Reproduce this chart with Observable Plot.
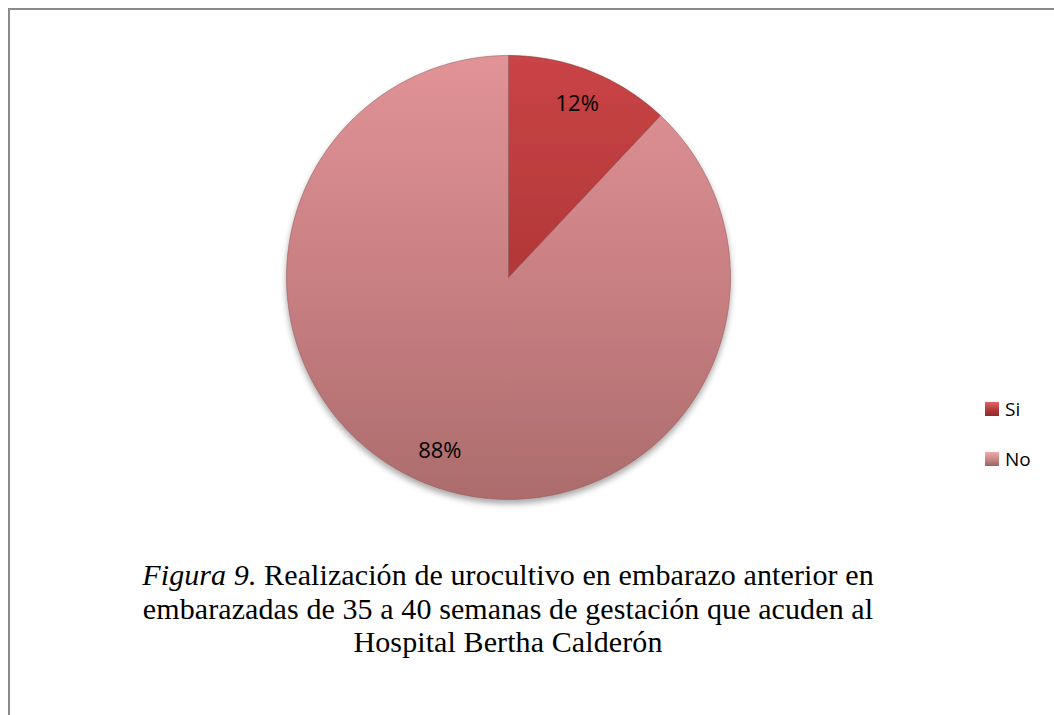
<!DOCTYPE html>
<html>
<head>
<meta charset="utf-8">
<script src="https://cdn.jsdelivr.net/npm/d3@7"></script>
<script src="https://cdn.jsdelivr.net/npm/@observablehq/plot@0.6"></script>
<style>
  html, body { margin: 0; padding: 0; background: #fff; }
  #wrap { position: relative; width: 1054px; height: 715px; overflow: hidden; background: #fff; }
  #frame { position: absolute; left: 8px; top: 8px; width: 1100px; height: 800px;
           border-top: 2px solid #8a8a8a; border-left: 2px solid #8a8a8a; box-sizing: border-box; }
  #chart { position: absolute; left: 0; top: 0; }
  #legend { position: absolute; left: 985px; top: 396px; font-family: "Open Sans", "Liberation Sans", sans-serif;
            font-size: 19px; color: #000; }
  .li { display: flex; align-items: center; height: 25px; margin-bottom: 25px; }
  .sw { width: 14px; height: 14px; margin-right: 6px; box-sizing: border-box; }
  #caption { position: absolute; left: 58px; width: 900px; top: 558px; text-align: center;
             font-family: "Liberation Serif", "Times New Roman", serif; font-size: 30px; letter-spacing: 0.1px;
             line-height: 33.5px; color: #000; }
</style>
</head>
<body>
<div id="wrap">
  <div id="frame"></div>
  <div id="chart"></div>
  <div id="legend"></div>
  <div id="caption"><i>Figura 9.</i> Realización de urocultivo en embarazo anterior en<br>embarazadas de 35 a 40 semanas de gestación que acuden al<br>Hospital Bertha Calderón</div>
</div>
<script>
// Data
const categories = ["Si", "No"];
const values = [12, 88];
const labels = ["12%", "88%"];

// Styles
const gradIds = {Si: "gSi", No: "gNo"};
const legendGrad = {
  Si: "linear-gradient(#e26565, #b03a3a 55%, #8e2a2a)",
  No: "linear-gradient(#f0aaaa, #c98585 55%, #9a6262)"
};

const pie = d3.pie().sort(null).value(d => d.value)(categories.map((c, i) => ({cat: c, value: values[i], label: labels[i]})));

// Build slice outlines from pie angles (clockwise from 12 o'clock)
const slicePts = [];
pie.forEach(p => {
  const n = Math.max(8, Math.ceil((p.endAngle - p.startAngle) / (Math.PI / 360)));
  slicePts.push({cat: p.data.cat, x: 0, y: 0});
  for (let k = 0; k <= n; k++) {
    const a = p.startAngle + (p.endAngle - p.startAngle) * k / n;
    slicePts.push({cat: p.data.cat, x: Math.sin(a), y: Math.cos(a)});
  }
  slicePts.push({cat: p.data.cat, x: 0, y: 0});
});
const labelPts = pie.map(p => {
  const a = (p.startAngle + p.endAngle) / 2;
  return {label: p.data.label, x: 0.84 * Math.sin(a), y: 0.84 * Math.cos(a)};
});

const W = 1054, H = 530;
const plot = Plot.plot({
  width: W, height: H,
  marginLeft: 286, marginRight: W - 730, marginTop: 55, marginBottom: H - 499,
  x: {domain: [-1, 1], axis: null},
  y: {domain: [-1, 1], axis: null},
  style: {background: "transparent", overflow: "visible"},
  marks: [
    () => {
      const svgNS = "http://www.w3.org/2000/svg";
      const g = document.createElementNS(svgNS, "g");
      g.innerHTML = `
        <defs>
          <linearGradient id="gSi" gradientUnits="userSpaceOnUse" x1="0" y1="55" x2="0" y2="499">
            <stop offset="0" stop-color="#c94446"/>
            <stop offset="0.5" stop-color="#b23737"/>
            <stop offset="1" stop-color="#962d2d"/>
          </linearGradient>
          <linearGradient id="gNo" gradientUnits="userSpaceOnUse" x1="0" y1="55" x2="0" y2="499">
            <stop offset="0" stop-color="#e19396"/>
            <stop offset="0.5" stop-color="#c98083"/>
            <stop offset="1" stop-color="#ac6c6c"/>
          </linearGradient>
          <filter id="shadow" x="-10%" y="-10%" width="120%" height="125%">
            <feGaussianBlur in="SourceAlpha" stdDeviation="3"/>
            <feOffset dx="0" dy="4" result="b"/>
            <feComponentTransfer><feFuncA type="linear" slope="0.35"/></feComponentTransfer>
            <feMerge><feMergeNode/><feMergeNode in="SourceGraphic"/></feMerge>
          </filter>
        </defs>`;
      return g;
    },
    Plot.line(slicePts, {
      x: "x", y: "y", z: "cat",
      fill: d => "url(#" + gradIds[d.cat] + ")",
      stroke: d => d.cat === "Si" ? "#7e2a2a" : "#8f5656",
      strokeWidth: 1, strokeOpacity: 0.55, strokeLinejoin: "round",
      render: (index, scales, values, dims, ctx, next) => {
        const el = next(index, scales, values, dims, ctx);
        el.setAttribute("filter", "url(#shadow)");
        return el;
      }
    }),
    Plot.text(labelPts, {
      x: "x", y: "y", text: "label",
      fontSize: 22, fill: "#000",
      fontFamily: "'Open Sans', 'Liberation Sans', sans-serif"
    })
  ]
});
document.getElementById("chart").appendChild(plot);

// Legend (HTML)
const legend = document.getElementById("legend");
categories.forEach(c => {
  const row = document.createElement("div");
  row.className = "li";
  const sw = document.createElement("div");
  sw.className = "sw";
  sw.style.background = legendGrad[c];
  const t = document.createElement("span");
  t.textContent = c;
  row.appendChild(sw); row.appendChild(t);
  legend.appendChild(row);
});
</script>
</body>
</html>
